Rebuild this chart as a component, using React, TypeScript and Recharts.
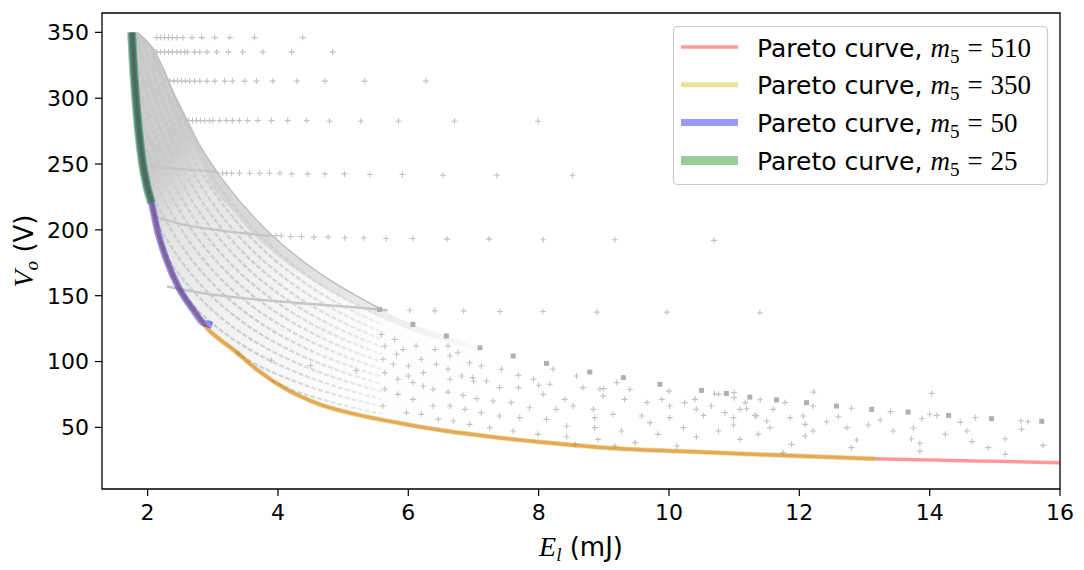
import React from 'react';
import { ComposedChart, Area, Scatter, XAxis, YAxis, ReferenceArea } from 'recharts';

const W = 1084;
const H = 570;

const xTicks = [2, 4, 6, 8, 10, 12, 14, 16];
const yTicks = [50, 100, 150, 200, 250, 300, 350];

// Pareto front, E_l (mJ) vs V_o (V). The m5 curves lie on top of each other along it.
const paretoE = [1.755, 1.78, 1.816, 1.86, 1.92, 1.99, 2.057, 2.158, 2.287, 2.491, 2.695, 2.849, 2.9, 3.1, 3.31, 3.67, 4.13, 4.64, 5.25, 5.87, 6.585, 7.3, 8.02, 9.14, 10.47, 11.5, 12.3, 13.16, 14.06, 15.0, 16.0];
const paretoV = [350, 326, 301, 276, 251, 233, 220.7, 197.9, 177.6, 154.8, 139.6, 129.5, 126, 117, 109.2, 94.1, 78.9, 67.5, 59.3, 53.2, 47.2, 42.7, 38.9, 34.1, 31.3, 29.2, 27.6, 26.2, 25.2, 24.2, 23.15];
const blueTailE = [2.93, 2.99];
const blueTailV = [128.4, 127.3];

// upper edge of the design cloud
const envE = [1.84, 1.95, 2.08, 2.235, 2.39, 2.59, 2.8, 3.05, 3.31, 3.55, 3.8, 4.05, 4.33, 4.7, 5.1, 5.56];
const envV = [350, 345, 338, 323, 305, 285, 264.3, 245.2, 228.1, 214.1, 201.1, 189.6, 178.3, 165.1, 152.9, 140.3];
const squareE = [5.56, 6.07, 6.585, 7.1, 7.61, 8.12, 8.785, 9.3, 9.86, 10.5, 10.88, 11.24, 11.65, 12.11, 12.57, 13.11, 13.67, 14.29, 14.95, 15.72];
const squareV = [139.6, 128.2, 119.4, 110.5, 104.2, 98.6, 92.0, 87.8, 82.7, 78.1, 75.8, 73.0, 70.8, 68.8, 66.2, 63.7, 61.6, 59.1, 56.6, 54.6];

// dense part of the cloud (front -> upper edge) and the band under the edge
const areaE = [1.755, 1.78, 1.816, 1.86, 1.92, 1.99, 2.057, 2.158, 2.287, 2.491, 2.695, 2.849, 2.98, 3.31, 3.67, 4.13, 4.64, 5.1, 5.56, 6.07, 6.585, 7.1];
const coreLow = [350, 326, 301, 276, 251, 233, 220.7, 197.9, 177.6, 154.8, 139.6, 129.5, 123, 109.2, 94.1, 78.9, 67.5, 61, 56.5, 52, 47.2, 44];
const edgeHigh = [350, 350, 350, 349.5, 347, 344, 339.5, 330, 317, 295, 274.5, 260, 250.3, 228.1, 207.6, 186.6, 167.5, 153, 140.3, 128.2, 119.4, 110.5];
const bandLow = [350, 350, 350, 349.5, 347, 344, 339.5, 328, 312, 287, 264, 248, 234, 214, 194, 175, 158, 145.5, 134, 123, 115, 107.5];

// streams of designs running below the edge
const streamE = [1.8, 1.9, 2.0, 2.1, 2.2, 2.35, 2.5, 2.7, 2.9, 3.1, 3.35, 3.6, 3.9, 4.2, 4.55, 4.9, 5.25, 5.6];
const n = null;
const streams = [
  [n, n, n, n, n, n, n, n, n, n, n, n, 85.5, 78.7, 73, 68.2, 63.9, 60.2],
  [n, n, n, n, n, n, n, n, n, n, 107.5, 99.5, 92.3, 86.1, 79.8, 74.6, 69.9, 65.9],
  [n, n, n, n, n, n, 155, 142.2, 132.8, 124.6, 115.7, 108.1, 100.2, 93.5, 86.7, 80.9, 75.9, 71.5],
  [n, n, n, n, 192, 175.4, 165.2, 153.5, 143.3, 134.4, 124.8, 116.6, 108.1, 100.9, 93.5, 87.3, 81.9, 77.2],
  [n, n, n, 212, 200.6, 188.2, 177.3, 164.7, 153.8, 144.3, 134, 125.1, 116, 108.2, 100.4, 93.7, 87.9, 82.8],
  [n, n, 235, 224.1, 214.3, 201, 189.4, 175.9, 164.3, 154.1, 143.1, 133.7, 123.9, 115.6, 107.2, 100.1, 93.9, 88.5],
  [n, 262.8, 250, 238.5, 228, 213.9, 201.5, 187.2, 174.8, 164, 152.3, 142.2, 131.9, 123, 114.1, 106.5, 99.9, 94.1],
  [n, 278.5, 265, 252.8, 241.6, 226.7, 213.6, 198.4, 185.2, 173.8, 161.4, 150.7, 139.8, 130.4, 120.9, 112.9, 105.9, 99.7],
  [314, 294.3, 280, 267.1, 255.3, 239.5, 225.7, 209.6, 195.7, 183.6, 170.5, 159.3, 147.7, 137.8, 127.7, 119.3, 111.9, 105.4],
  [326.8, 310, 295, 281.4, 269, 252.3, 237.8, 220.8, 206.2, 193.5, 179.7, 167.8, 155.6, 145.1, 134.6, 125.7, 117.9, 111],
  [343.4, 325.8, 310, 295.7, 282.7, 265.2, 249.9, 232.1, 216.7, 203.3, 188.8, 176.3, 163.5, 152.5, 141.4, 132.1, 123.9, 116.7],
  [n, 341.6, 325, 310, 296.3, 278, 262, 243.3, 227.2, 213.1, 197.9, 184.9, 171.4, 159.9, 148.3, 138.5, 129.9, 122.3],
  [n, n, 340, 324.3, 310, 290.8, 274, 254.5, 237.7, 223, 207.1, 193.4, 179.3, 167.3, 155.1, 144.8, 135.9, 128],
  [n, n, n, n, 323.7, 303.7, 286.1, 265.8, 248.1, 232.8, 216.2, 201.9, 187.2, 174.7, 161.9, 151.2, 141.9, 133.6],
];

// rows that cross the cloud as darker bands
const rowBands: [number, number][][] = [
  [[1.95, 248], [2.3, 247], [2.7, 245.5], [3.03, 244], [3.09, 243]],
  [[2.1, 210], [2.55, 204], [3.05, 200], [3.55, 197], [3.89, 195.5]],
  [[2.3, 157], [2.9, 151.5], [3.5, 148], [4.3, 144.5], [5.1, 141.5], [5.684, 139]],
];

// sparse rows outside the edge
const rowPoints: [number, number][] = [
  [2.14, 346], [2.2, 346], [2.26, 346], [2.32, 346], [2.38, 346], [2.45, 346], [2.54, 346], [2.68, 346], [2.83, 346], [3.03, 346], [3.26, 346], [3.64, 346], [4.38, 346],
  [2.11, 335], [2.14, 335], [2.2, 335], [2.26, 335], [2.32, 335], [2.38, 335], [2.45, 335], [2.51, 335], [2.57, 335], [2.61, 335], [2.72, 335], [2.8, 335], [2.91, 335], [3.06, 335], [3.24, 335], [3.46, 335], [3.77, 335], [4.21, 335], [4.84, 335],
  [2.34, 313], [2.4, 313], [2.46, 313], [2.52, 313], [2.58, 313], [2.645, 313], [2.72, 313], [2.8, 313], [2.91, 313], [3.03, 313], [3.18, 313], [3.3, 313], [3.49, 313], [3.67, 313], [3.92, 313], [4.29, 313], [4.72, 313], [5.33, 313], [6.27, 313],
  [2.57, 283], [2.63, 283], [2.69, 283], [2.75, 283], [2.81, 283], [2.875, 283], [2.95, 283], [3.0, 283], [3.105, 283], [3.21, 283], [3.3, 283], [3.41, 283], [3.535, 283], [3.69, 283], [3.9, 283], [4.15, 283], [4.44, 283], [4.79, 282.5], [5.27, 282.5], [5.85, 282.5], [6.71, 282.5], [7.99, 282.5],
  [3.15, 243], [3.21, 243], [3.29, 243], [3.41, 243], [3.566, 243], [3.72, 243], [3.87, 243], [4.03, 243], [4.21, 242.5], [4.456, 242.5], [4.72, 242.5], [5.02, 242.5], [5.41, 242], [5.91, 242], [6.53, 241.5], [7.36, 241.5], [8.52, 241.5],
  [3.97, 195.5], [4.05, 195.5], [4.195, 195], [4.36, 195], [4.553, 194.5], [4.77, 194.5], [5.024, 194], [5.316, 194], [5.66, 193.5], [6.07, 193.5], [6.595, 193], [7.24, 193], [8.07, 192.5], [9.17, 192.5], [10.69, 192],
  [6.022, 139], [6.406, 138.5], [6.85, 138.5], [7.404, 138], [8.064, 138], [8.893, 137.5], [9.967, 137.5], [11.395, 137],
  [3.4, 106], [3.9, 101], [4.5, 97], [5.2, 93], [6.0, 89], [7.0, 85], [8.0, 82], [9.0, 79.5], [10.0, 77.5], [11.0, 76.5], [12.22, 76.8], [14.03, 75.8],
];

// scattered designs in the lower right
const latticePoints: [number, number][] = [
  [5.59, 120.6], [5.64, 111.8], [5.61, 101.7], [5.64, 91.6], [5.64, 78.9], [5.61, 66.2], [5.79, 116.8], [5.82, 105.5], [5.77, 97.9], [5.84, 86.5], [5.84, 75.1], [5.97, 61.2], [5.92, 109.2], [6.0, 96.6], [6.07, 84.0], [6.07, 71.3], [6.2, 59.9], [6.12, 111.8], [6.2, 101.7], [6.23, 91.6], [6.23, 81.4], [6.38, 78.9], [6.38, 66.2], [6.46, 56.1], [6.41, 109.2], [6.43, 97.9],
  [6.61, 111.8], [6.64, 104.2], [6.61, 94.1], [6.64, 86.5], [6.61, 76.8], [6.64, 66.2], [6.69, 54.8], [6.76, 106.7], [6.82, 89.0], [6.84, 74.3], [6.87, 63.7], [6.94, 52.3], [6.94, 99.1], [6.99, 87.8], [7.05, 71.8], [7.12, 61.2], [7.12, 96.6], [7.2, 85.2], [7.25, 49.8], [7.3, 70.0], [7.4, 58.6], [7.4, 80.2], [7.43, 94.1], [7.58, 68.8], [7.61, 47.2], [7.69, 89.5], [7.69, 80.2], [7.71, 57.4], [7.86, 64.9], [7.92, 86.5], [7.99, 44.7], [8.07, 75.1], [8.12, 56.1], [8.17, 82.7], [8.22, 94.1], [8.27, 63.7], [8.4, 71.3], [8.43, 51.0], [8.43, 42.9], [8.53, 66.2], [8.58, 89.0], [8.68, 80.2], [8.84, 63.7], [8.86, 49.8], [8.86, 57.4], [8.94, 78.9], [8.99, 73.8], [9.14, 59.9], [9.2, 84.0], [9.27, 47.2], [9.32, 71.3], [9.4, 78.9], [9.58, 58.6], [9.66, 68.8], [9.71, 53.6], [9.83, 44.7], [9.89, 71.3], [10.01, 66.2], [10.01, 57.4], [10.12, 35.8], [8.56, 37.1], [8.91, 40.9], [9.17, 35.8], [9.48, 38.4],
  [10.22, 49.8], [10.24, 68.8], [10.4, 71.3], [10.42, 63.7], [10.42, 42.9], [10.65, 66.2], [10.76, 75.1], [10.76, 47.2], [10.86, 61.2], [10.99, 57.4], [11.09, 40.9], [11.17, 68.8], [11.19, 64.2], [11.34, 58.6], [11.37, 44.7], [11.5, 54.8], [11.55, 49.8], [11.6, 63.7], [11.78, 68.8], [11.86, 57.4], [11.88, 37.1], [12.06, 58.6], [12.09, 52.3], [12.09, 43.4], [12.21, 66.2], [12.21, 47.2],
  [10.53, 59.1], [10.99, 51.8], [11.09, 63.7], [11.32, 59.1], [11.75, 30.8], [12.42, 54.3], [12.6, 58.1], [12.73, 49.8], [12.8, 34.6], [12.88, 40.4], [13.06, 51.8], [13.24, 55.6], [13.44, 47.2], [13.72, 41.4], [13.75, 49.5], [13.85, 37.9], [13.85, 32.0], [13.88, 56.6], [14.11, 59.1], [14.24, 44.7], [14.47, 54.0], [14.57, 47.2], [14.65, 39.2], [14.9, 34.6], [15.16, 41.4], [15.16, 29.5], [15.41, 48.5], [15.51, 54.3], [15.74, 36.3],
  [10.7, 75.5], [11.0, 72.5], [11.4, 71], [12.8, 64.5], [13.4, 62], [14.0, 60], [14.7, 57.5], [15.4, 55],
];

const legendM5 = ['510', '350', '50', '25'];
const legendColors = ['#ff0000', '#bfbf00', '#0000ff', '#008000'];
const legendWidths = [3.5, 5, 7, 9];

type Pt = { E: number; V: number };
const toPts = (es: number[], vs: (number | null)[]): Pt[] =>
  es.map((E, i) => ({ E, V: vs[i] as number })).filter((p) => p.V != null);
const pairPts = (pairs: [number, number][]): Pt[] => pairs.map(([E, V]) => ({ E, V }));

const areaRows = areaE.map((E, i) => ({
  E,
  core: [coreLow[i], edgeHigh[i]],
  band: [bandLow[i], edgeHigh[i]],
}));

const curves = [
  { m5: '510', color: legendColors[0], width: legendWidths[0], points: toPts(paretoE, paretoV) },
  { m5: '350', color: legendColors[1], width: legendWidths[1], points: toPts(paretoE.slice(0, 28), paretoV.slice(0, 28)) },
  {
    m5: '50',
    color: legendColors[2],
    width: legendWidths[2],
    points: toPts([...paretoE.slice(0, 12), ...blueTailE], [...paretoV.slice(0, 12), ...blueTailV]),
  },
  { m5: '25', color: legendColors[3], width: legendWidths[3], points: toPts(paretoE.slice(0, 7), paretoV.slice(0, 7)) },
];

const noDot = () => <g />;

const plusShape = (props: any) => {
  const { cx, cy } = props;
  if (cx == null || cy == null) return <g />;
  return (
    <path
      d={`M${cx - 3},${cy}H${cx + 3}M${cx},${cy - 3}V${cy + 3}`}
      stroke="#c2c2c2"
      strokeWidth={1.1}
      fill="none"
    />
  );
};

const squareShape = (props: any) => {
  const { cx, cy } = props;
  if (cx == null || cy == null) return <g />;
  return <rect x={cx - 2.5} y={cy - 2.5} width={5} height={5} fill="#b0b0b0" />;
};

const mathFont = 'Liberation Serif';
const textFont = 'DejaVu Sans';

const Overlay = () => (
  <svg width={W} height={H} style={{ position: 'absolute', left: 0, top: 0, pointerEvents: 'none' }}>
    <rect x={673.5} y={26.5} width={374} height={158} rx={4} fill="#fff" fillOpacity={0.8} stroke="#cccccc" strokeWidth={1.2} />
    {legendM5.map((m, i) => {
      const cy = 47 + i * 37.8;
      return (
        <g key={m}>
          <line x1={681} x2={738} y1={cy} y2={cy} stroke={legendColors[i]} strokeOpacity={0.4} strokeWidth={legendWidths[i]} />
          <text x={757} y={cy + 9.5} fontSize={25} fontFamily={textFont} fill="#000">
            Pareto curve,{' '}
            <tspan fontFamily={mathFont} fontStyle="italic" fontSize={27}>m</tspan>
            <tspan fontFamily={mathFont} fontSize={19} dy={6}>5</tspan>
            <tspan fontFamily={mathFont} fontSize={27} dy={-6} dx={8}>=</tspan>
            <tspan fontFamily={mathFont} fontSize={27} dx={8}>{m}</tspan>
          </text>
        </g>
      );
    })}
    <text x={581} y={556} textAnchor="middle" fill="#000">
      <tspan fontFamily={mathFont} fontStyle="italic" fontSize={28}>E</tspan>
      <tspan fontFamily={mathFont} fontStyle="italic" fontSize={19} dy={5}>l</tspan>
      <tspan fontFamily={textFont} fontSize={26} dy={-5}>{' (mJ)'}</tspan>
    </text>
    <text x={33} y={251} textAnchor="middle" fill="#000" transform="rotate(-90 33 251)">
      <tspan fontFamily={mathFont} fontStyle="italic" fontSize={28}>V</tspan>
      <tspan fontFamily={mathFont} fontStyle="italic" fontSize={19} dy={5}>o</tspan>
      <tspan fontFamily={textFont} fontSize={26} dy={-5}>{' (V)'}</tspan>
    </text>
  </svg>
);

const tickStyle = { fontSize: 22, fill: '#000', fontFamily: textFont };

export default function App() {
  return (
    <div style={{ position: 'absolute', left: 0, top: 0, width: W, height: H, background: '#fff' }}>
      <ComposedChart width={W} height={H} data={areaRows} margin={{ top: 13, right: 24, bottom: 0, left: 0 }}>
        <defs>
          <linearGradient id="coreFill" x1="0" y1="0" x2="1" y2="1">
            <stop offset="0" stopColor="#c8c8c8" stopOpacity={1} />
            <stop offset="0.2" stopColor="#c8c8c8" stopOpacity={1} />
            <stop offset="0.3" stopColor="#c8c8c8" stopOpacity={0.5} />
            <stop offset="0.45" stopColor="#c8c8c8" stopOpacity={0.3} />
            <stop offset="0.6" stopColor="#c8c8c8" stopOpacity={0.14} />
            <stop offset="0.75" stopColor="#c8c8c8" stopOpacity={0.03} />
            <stop offset="1" stopColor="#c8c8c8" stopOpacity={0} />
          </linearGradient>
          <linearGradient id="bandFill" x1="0" y1="0" x2="1" y2="0">
            <stop offset="0" stopColor="#c8c8c8" stopOpacity={0.6} />
            <stop offset="0.3" stopColor="#c8c8c8" stopOpacity={0.55} />
            <stop offset="0.6" stopColor="#c8c8c8" stopOpacity={0.4} />
            <stop offset="1" stopColor="#c8c8c8" stopOpacity={0.1} />
          </linearGradient>
          <linearGradient id="streamFade" gradientUnits="userSpaceOnUse" x1="250" y1="0" x2="390" y2="0">
            <stop offset="0" stopColor="#cecece" stopOpacity={1} />
            <stop offset="0.6" stopColor="#cecece" stopOpacity={0.55} />
            <stop offset="1" stopColor="#cecece" stopOpacity={0.25} />
          </linearGradient>
        </defs>
        <XAxis
          type="number"
          dataKey="E"
          domain={[1.3, 16]}
          allowDataOverflow
          ticks={xTicks}
          tickSize={7}
          tickMargin={8}
          tick={tickStyle}
          tickLine={{ stroke: '#000', strokeWidth: 1.2 }}
          axisLine={false}
          height={81}
        />
        <YAxis
          type="number"
          dataKey="V"
          domain={[3.2, 364.7]}
          allowDataOverflow
          ticks={yTicks}
          tickSize={7}
          tickMargin={6}
          tick={tickStyle}
          tickLine={{ stroke: '#000', strokeWidth: 1.2 }}
          axisLine={false}
          width={102}
        />
        <Area type="monotoneX" dataKey="core" stroke="none" fill="url(#coreFill)" fillOpacity={1} dot={false} activeDot={false} isAnimationActive={false} />
        <Area type="monotoneX" dataKey="band" stroke="none" fill="url(#bandFill)" fillOpacity={1} dot={false} activeDot={false} isAnimationActive={false} />
        {streams.map((s, i) => (
          <Scatter
            key={`stream-${i}`}
            data={toPts(streamE, s)}
            line={{ stroke: 'url(#streamFade)', strokeWidth: 2.4, strokeDasharray: '5 2' }}
            lineJointType="monotoneX"
            shape={noDot}
            isAnimationActive={false}
          />
        ))}
        {rowBands.map((b, i) => (
          <Scatter
            key={`band-${i}`}
            data={pairPts(b)}
            line={{ stroke: '#c6c6c6', strokeWidth: 2.4 }}
            lineJointType="monotoneX"
            shape={noDot}
            isAnimationActive={false}
          />
        ))}
        <Scatter
          data={toPts(envE, envV)}
          line={{ stroke: '#bdbdbd', strokeWidth: 1.4 }}
          lineJointType="monotoneX"
          shape={noDot}
          isAnimationActive={false}
        />
        <Scatter data={pairPts(rowPoints)} shape={plusShape} isAnimationActive={false} />
        <Scatter data={pairPts(latticePoints)} shape={plusShape} isAnimationActive={false} />
        <Scatter data={toPts(squareE, squareV)} shape={squareShape} isAnimationActive={false} />
        {curves.map((c) => (
          <Scatter
            key={c.m5}
            name={`Pareto curve, m5=${c.m5}`}
            data={c.points}
            line={{ stroke: c.color, strokeOpacity: 0.4, strokeWidth: c.width, strokeLinejoin: 'round' }}
            lineJointType="monotoneX"
            shape={noDot}
            isAnimationActive={false}
          />
        ))}
        <ReferenceArea x1={1.3} x2={16} y1={3.2} y2={364.7} fill="none" fillOpacity={0} stroke="#000" strokeWidth={1.3} ifOverflow="visible" />
      </ComposedChart>
      <Overlay />
    </div>
  );
}
